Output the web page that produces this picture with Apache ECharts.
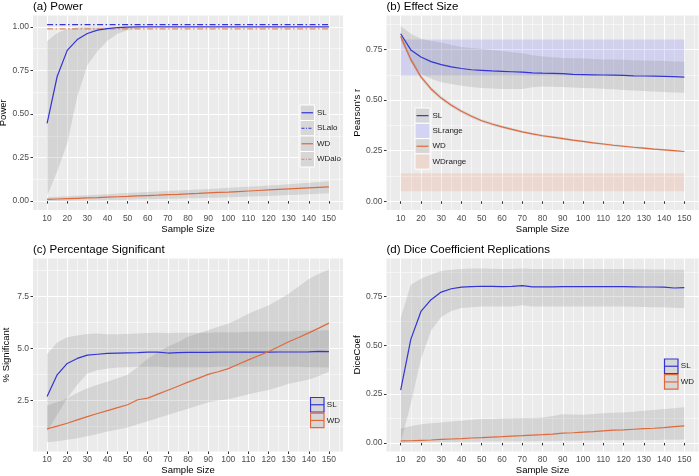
<!DOCTYPE html>
<html><head><meta charset="utf-8">
<script src="https://cdn.jsdelivr.net/npm/echarts@6/dist/echarts.min.js"></script>
<style>html,body{margin:0;padding:0;background:#fff}#c{width:699px;height:476px}</style>
</head><body><div id="c"></div><script>
// ---------- data ----------
const sampleSize = [10,15,20,25,30,35,40,45,50,55,60,65,70,75,80,85,90,95,100,105,110,115,120,125,130,135,140,145,150];
const xTicks = [10,20,30,40,50,60,70,80,90,100,110,120,130,140,150];
const xMinorTicks = [5,15,25,35,45,55,65,75,85,95,105,115,125,135,145,155];

// (a) Power
const powerSL   = [0.446,0.715,0.865,0.927,0.962,0.981,0.990,0.996,0.998,1,1,1,1,1,1,1,1,1,1,1,1,1,1,1,1,1,1,1,1];
const powerSLlo = [0.03,0.17,0.33,0.60,0.78,0.86,0.92,0.96,0.98,0.99,1,1,1,1,1,1,1,1,1,1,1,1,1,1,1,1,1,1,1];
const powerSLhi = [0.917,0.965,0.988,0.998,1,1,1,1,1,1,1,1,1,1,1,1,1,1,1,1,1,1,1,1,1,1,1,1,1];
const powerWD   = [0.010,0.012,0.014,0.016,0.018,0.020,0.023,0.025,0.027,0.030,0.032,0.034,0.037,0.039,0.042,0.044,0.047,0.050,0.052,0.055,0.058,0.061,0.064,0.067,0.070,0.073,0.076,0.079,0.082];
const powerWDlo = [0.000,0.001,0.002,0.003,0.004,0.005,0.006,0.007,0.008,0.010,0.011,0.012,0.013,0.014,0.016,0.017,0.019,0.020,0.022,0.024,0.026,0.028,0.030,0.032,0.035,0.037,0.040,0.042,0.045];
const powerWDhi = [0.022,0.025,0.028,0.031,0.034,0.037,0.040,0.043,0.046,0.049,0.052,0.055,0.058,0.061,0.064,0.067,0.070,0.073,0.076,0.079,0.082,0.085,0.089,0.093,0.097,0.101,0.105,0.109,0.114];
const aloX = [10, 150];
const aloSL = [1.013, 1.013];
const aloWD = [0.988, 0.988];
const powerTicks = [0, 0.25, 0.5, 0.75, 1.0];
const powerMinor = [0.125, 0.375, 0.625, 0.875];

// (b) Effect size
const effectSL   = [0.828,0.748,0.713,0.690,0.675,0.664,0.656,0.650,0.647,0.644,0.642,0.640,0.638,0.635,0.633,0.632,0.631,0.627,0.626,0.625,0.624,0.623,0.622,0.620,0.619,0.618,0.617,0.616,0.614];
const effectSLlo = [0.795,0.696,0.630,0.605,0.588,0.579,0.571,0.565,0.560,0.557,0.555,0.555,0.555,0.564,0.567,0.566,0.565,0.562,0.560,0.558,0.556,0.553,0.550,0.548,0.545,0.543,0.540,0.538,0.536];
const effectSLhi = [0.866,0.828,0.803,0.792,0.784,0.772,0.762,0.757,0.752,0.747,0.742,0.737,0.732,0.722,0.716,0.712,0.708,0.707,0.705,0.703,0.701,0.700,0.699,0.697,0.696,0.694,0.693,0.691,0.689];
const effectWD   = [0.815,0.700,0.615,0.555,0.510,0.475,0.445,0.420,0.398,0.382,0.368,0.355,0.343,0.333,0.324,0.317,0.310,0.302,0.296,0.289,0.283,0.277,0.272,0.267,0.263,0.258,0.254,0.250,0.246];
const effectWDlo = [0.798,0.686,0.603,0.544,0.500,0.466,0.436,0.412,0.390,0.375,0.361,0.348,0.337,0.327,0.318,0.311,0.304,0.297,0.291,0.284,0.278,0.272,0.267,0.263,0.258,0.254,0.250,0.246,0.242];
const effectWDhi = [0.832,0.714,0.627,0.566,0.520,0.484,0.454,0.428,0.406,0.389,0.375,0.362,0.349,0.339,0.330,0.323,0.316,0.307,0.301,0.294,0.288,0.282,0.277,0.271,0.268,0.262,0.258,0.254,0.250];
const rangeX = [10, 150];
const slRange = [0.62, 0.80];
const wdRange = [0.05, 0.138];
const effectTicks = [0, 0.25, 0.5, 0.75];
const effectMinor = [0.125, 0.375, 0.625, 0.875];

// (c) Percentage significant
const pctSL   = [2.69,3.73,4.28,4.52,4.68,4.72,4.76,4.78,4.79,4.80,4.82,4.82,4.78,4.80,4.81,4.81,4.81,4.82,4.82,4.82,4.82,4.82,4.82,4.83,4.83,4.83,4.84,4.86,4.85];
const pctSLlo = [1.00,1.80,2.60,3.25,3.80,3.95,4.04,4.08,4.10,4.12,4.12,4.12,4.10,4.10,4.10,4.10,4.10,4.12,4.12,4.12,4.12,4.12,4.12,4.12,4.12,4.12,4.10,4.10,4.08];
const pctSLhi = [4.72,5.29,5.54,5.62,5.70,5.72,5.68,5.68,5.70,5.72,5.74,5.75,5.74,5.76,5.76,5.76,5.76,5.78,5.78,5.78,5.80,5.80,5.82,5.82,5.82,5.84,5.85,5.87,5.88];
const pctWD   = [1.13,1.26,1.40,1.56,1.72,1.87,2.01,2.15,2.29,2.53,2.61,2.80,2.99,3.18,3.38,3.56,3.75,3.88,4.03,4.24,4.45,4.65,4.85,5.08,5.32,5.53,5.75,5.98,6.22];
const pctWDlo = [0.48,0.53,0.60,0.68,0.78,0.88,1.00,1.10,1.20,1.35,1.50,1.65,1.80,1.95,2.10,2.25,2.40,2.50,2.55,2.68,2.80,2.90,3.00,3.15,3.30,3.40,3.50,3.68,3.88];
const pctWDhi = [2.25,2.42,2.60,2.85,3.09,3.25,3.40,3.56,3.73,4.10,4.50,4.80,5.10,5.30,5.56,5.72,5.88,6.04,6.19,6.42,6.67,6.87,7.07,7.35,7.63,7.98,8.34,8.60,8.80];
const pctTicks = [2.5, 5.0, 7.5];
const pctMinor = [1.25, 3.75, 6.25, 8.75];

// (d) Dice coefficient
const diceSL   = [0.270,0.530,0.673,0.733,0.772,0.789,0.797,0.800,0.802,0.801,0.800,0.801,0.805,0.799,0.799,0.799,0.800,0.800,0.800,0.800,0.800,0.800,0.800,0.799,0.798,0.798,0.797,0.793,0.795];
const diceSLlo = [0.000,0.200,0.430,0.575,0.645,0.675,0.690,0.695,0.698,0.698,0.698,0.698,0.705,0.698,0.698,0.698,0.698,0.698,0.698,0.698,0.698,0.698,0.698,0.697,0.696,0.695,0.694,0.692,0.690];
const diceSLhi = [0.639,0.810,0.840,0.862,0.880,0.887,0.890,0.893,0.893,0.892,0.890,0.890,0.893,0.890,0.890,0.890,0.890,0.890,0.890,0.890,0.890,0.890,0.890,0.889,0.889,0.888,0.888,0.887,0.887];
const diceWD   = [0.010,0.011,0.013,0.015,0.018,0.020,0.022,0.025,0.027,0.030,0.032,0.035,0.037,0.040,0.042,0.045,0.050,0.052,0.055,0.058,0.062,0.065,0.067,0.070,0.073,0.075,0.078,0.083,0.087];
const diceWDlo = [0.000,0.001,0.002,0.003,0.004,0.005,0.006,0.006,0.007,0.007,0.008,0.008,0.009,0.009,0.010,0.010,0.011,0.011,0.012,0.012,0.013,0.013,0.014,0.014,0.015,0.015,0.016,0.016,0.017];
const diceWDhi = [0.074,0.085,0.096,0.100,0.105,0.109,0.113,0.118,0.122,0.123,0.125,0.126,0.127,0.128,0.130,0.138,0.147,0.146,0.144,0.148,0.152,0.154,0.156,0.160,0.165,0.169,0.173,0.178,0.182];
const diceTicks = [0, 0.25, 0.5, 0.75];
const diceMinor = [0.125, 0.375, 0.625, 0.875];

const legendA = ['SL', 'SLalo', 'WD', 'WDalo'];
const legendB = ['SL', 'SLrange', 'WD', 'WDrange'];
const legendCD = ['SL', 'WD'];

// ---------- styling ----------
const FONT = '"Liberation Sans", Arial, Helvetica, sans-serif';
const BLUE = '#3434D2';
const ORANGE = '#DE6A3C';
const RIBBON = 'rgba(120,120,120,0.2)';
const PANEL = '#EBEBEB';

const panels = [
  {title:'(a) Power', yname:'Power', grid:{left:33, top:15.5, width:310, height:194.5}, ymin:-0.051, ymax:1.065, ticks:powerTicks, minor:powerMinor, dec:2},
  {title:'(b) Effect Size', yname:"Pearson's r", grid:{left:386.5, top:15.5, width:312, height:194.5}, ymin:-0.043, ymax:0.918, ticks:effectTicks, minor:effectMinor, dec:2},
  {title:'(c) Percentage Significant', yname:'% Significant', grid:{left:33, top:258.5, width:310, height:193}, ymin:0.04, ymax:9.33, ticks:pctTicks, minor:pctMinor, dec:1},
  {title:'(d) Dice Coefficient Replications', yname:'DiceCoef', grid:{left:386.5, top:258.5, width:312, height:193}, ymin:-0.044, ymax:0.944, ticks:diceTicks, minor:diceMinor, dec:2}
];

const grid = [], xAxis = [], yAxis = [], title = [], series = [];
panels.forEach((p, i) => {
  grid.push(Object.assign({show:true, backgroundColor:PANEL, borderWidth:0, containLabel:false, outerBoundsMode:'none'}, p.grid));
  title.push({text:p.title, left:p.grid.left, top:p.grid.top - 14.5, padding:0,
    textStyle:{fontFamily:FONT, fontSize:11.5, fontWeight:'normal', color:'#000'}});
  xAxis.push({type:'value', gridIndex:i, min:3, max:157,
    axisLine:{show:false},
    axisTick:{show:true, length:2.5, lineStyle:{color:'#333', width:1}, customValues:xTicks},
    axisLabel:{customValues:xTicks, color:'#4D4D4D', fontSize:8.5, fontFamily:FONT, margin:4},
    splitLine:{show:true, lineStyle:{color:'#fff', width:1}},
    name:'Sample Size', nameLocation:'middle', nameGap:13.5,
    nameTextStyle:{fontFamily:FONT, fontSize:9.5, color:'#000'}, z:1});
  xAxis.push({type:'value', gridIndex:i, min:3, max:157, position:'bottom',
    axisLine:{show:false}, axisTick:{show:false, customValues:xMinorTicks},
    axisLabel:{show:false}, splitLine:{show:true, lineStyle:{color:'#fff', width:0.5}}, z:0});
  yAxis.push({type:'value', gridIndex:i, min:p.ymin, max:p.ymax,
    axisLine:{show:false},
    axisTick:{show:true, length:2.5, lineStyle:{color:'#333', width:1}, customValues:p.ticks},
    axisLabel:{customValues:p.ticks, color:'#4D4D4D', fontSize:8.5, fontFamily:FONT, margin:4,
      formatter:(v) => Number(v).toFixed(p.dec)},
    splitLine:{show:true, lineStyle:{color:'#fff', width:1}},
    name:p.yname, nameLocation:'middle', nameGap:21.5,
    nameTextStyle:{fontFamily:FONT, fontSize:9.5, color:'#000'}, z:1});
  yAxis.push({type:'value', gridIndex:i, min:p.ymin, max:p.ymax, position:'left',
    axisLine:{show:false}, axisTick:{show:false, customValues:p.minor},
    axisLabel:{show:false}, splitLine:{show:true, lineStyle:{color:'#fff', width:0.5}}, z:0});
});

// ribbon drawn as a polygon through the axes' own coordinate mapping
function ribbon(gi, lo, hi, color) {
  series.push({type:'custom', xAxisIndex:2*gi, yAxisIndex:2*gi, silent:true, z:2, animation:false,
    clip:true,
    data:[[sampleSize[0], lo[0]]],
    renderItem:(params, api) => {
      const pts = [];
      for (let k = 0; k < sampleSize.length; k++) pts.push(api.coord([sampleSize[k], hi[k]]));
      for (let k = sampleSize.length - 1; k >= 0; k--) pts.push(api.coord([sampleSize[k], lo[k]]));
      return {type:'polygon', shape:{points:pts}, style:{fill:color, stroke:null}};
    }});
}
function line(gi, xs, ys, color, dash, opacity) {
  series.push({type:'line', xAxisIndex:2*gi, yAxisIndex:2*gi, symbol:'none', silent:true, animation:false,
    data: xs.map((x, k) => [x, ys[k]]),
    lineStyle:{color:color, width:1.2, type:dash || 'solid', opacity:opacity || 1}, z:5});
}

// (a)
ribbon(0, powerSLlo, powerSLhi, RIBBON);
ribbon(0, powerWDlo, powerWDhi, RIBBON);
line(0, aloX, aloSL, BLUE, [6,2.5,1.5,2.5]);
line(0, aloX, aloWD, ORANGE, [6,2.5,1.5,2.5], 0.75);
line(0, sampleSize, powerSL, BLUE);
line(0, sampleSize, powerWD, ORANGE);

// (b)
series.push({type:'line', xAxisIndex:2, yAxisIndex:2, data:[], silent:true, z:1,
  markArea:{silent:true, data:[
    [{coord:[rangeX[0], slRange[0]], itemStyle:{color:'rgba(40,40,255,0.13)'}}, {coord:[rangeX[1], slRange[1]]}],
    [{coord:[rangeX[0], wdRange[0]], itemStyle:{color:'rgba(240,110,60,0.14)'}}, {coord:[rangeX[1], wdRange[1]]}]
  ]}});
ribbon(1, effectSLlo, effectSLhi, RIBBON);
ribbon(1, effectWDlo, effectWDhi, RIBBON);
line(1, sampleSize, effectSL, BLUE);
line(1, sampleSize, effectWD, ORANGE);

// (c)
ribbon(2, pctSLlo, pctSLhi, RIBBON);
ribbon(2, pctWDlo, pctWDhi, RIBBON);
line(2, sampleSize, pctSL, BLUE);
line(2, sampleSize, pctWD, ORANGE);

// (d)
ribbon(3, diceSLlo, diceSLhi, RIBBON);
ribbon(3, diceWDlo, diceWDhi, RIBBON);
line(3, sampleSize, diceSL, BLUE);
line(3, sampleSize, diceWD, ORANGE);

// ---------- legends (graphic) ----------
const graphic = [];
const KEYFILL = '#D7D7D7';
function txt(x, y, t) {
  graphic.push({type:'text', x:x, y:y, z:101, silent:true,
    style:{text:t, fill:'#1A1A1A', fontSize:8, fontFamily:FONT, verticalAlign:'middle', align:'left'}});
}
function keyBox(x, y, w, h, fill, stroke, lw) {
  graphic.push({type:'rect', z:100, silent:true, shape:{x:x, y:y, width:w, height:h},
    style:{fill:fill, stroke:stroke, lineWidth:lw}});
}
function keyLine(x1, x2, y, color, dash, op) {
  graphic.push({type:'line', z:101, silent:true, shape:{x1:x1, y1:y, x2:x2, y2:y},
    style:{stroke:color, lineWidth:1.2, lineDash:dash || null, opacity:op || 1}});
}
// (a)
{
  const kx = 300, kw = 14.5, kh = 15.5, y0 = 105;
  const cols = [BLUE, BLUE, ORANGE, ORANGE];
  const dashes = [null, [3,1.5,1,1.5], null, [3,1.5,1,1.5]];
  legendA.forEach((t, k) => {
    const y = y0 + k * kh;
    keyBox(kx, y, kw, kh, KEYFILL, '#fff', 1);
    keyLine(kx + 1.5, kx + kw - 1.5, y + kh / 2, cols[k], dashes[k], k === 3 ? 0.75 : 1);
    txt(kx + kw + 2.5, y + kh / 2, t);
  });
}
// (b)
{
  const kx = 415, kw = 15, kh = 15.3, y0 = 108;
  const fills = [KEYFILL, '#D3D3F4', KEYFILL, '#EDD8CF'];
  legendB.forEach((t, k) => {
    const y = y0 + k * kh;
    keyBox(kx, y, kw, kh, fills[k], '#fff', 1);
    if (k === 0) keyLine(kx + 1.5, kx + kw - 1.5, y + kh / 2, BLUE);
    if (k === 2) keyLine(kx + 1.5, kx + kw - 1.5, y + kh / 2, ORANGE);
    txt(kx + kw + 2.5, y + kh / 2, t);
  });
}
// (c), (d)
function legendCDdraw(kx, y0) {
  const kw = 13.5, kh = 14.5, gap = 1.2;
  const cols = [BLUE, ORANGE];
  legendCD.forEach((t, k) => {
    const y = y0 + k * (kh + gap);
    keyBox(kx, y, kw, kh, KEYFILL, cols[k], 1.2);
    keyLine(kx, kx + kw, y + kh / 2, cols[k]);
    txt(kx + kw + 2.8, y + kh / 2, t);
  });
}
legendCDdraw(310.5, 397.5);
legendCDdraw(664.5, 359);

const chart = echarts.init(document.getElementById('c'), null, {renderer:'canvas'});
chart.setOption({animation:false, backgroundColor:'#fff', title, grid, xAxis, yAxis, series, graphic});
</script></body></html>
